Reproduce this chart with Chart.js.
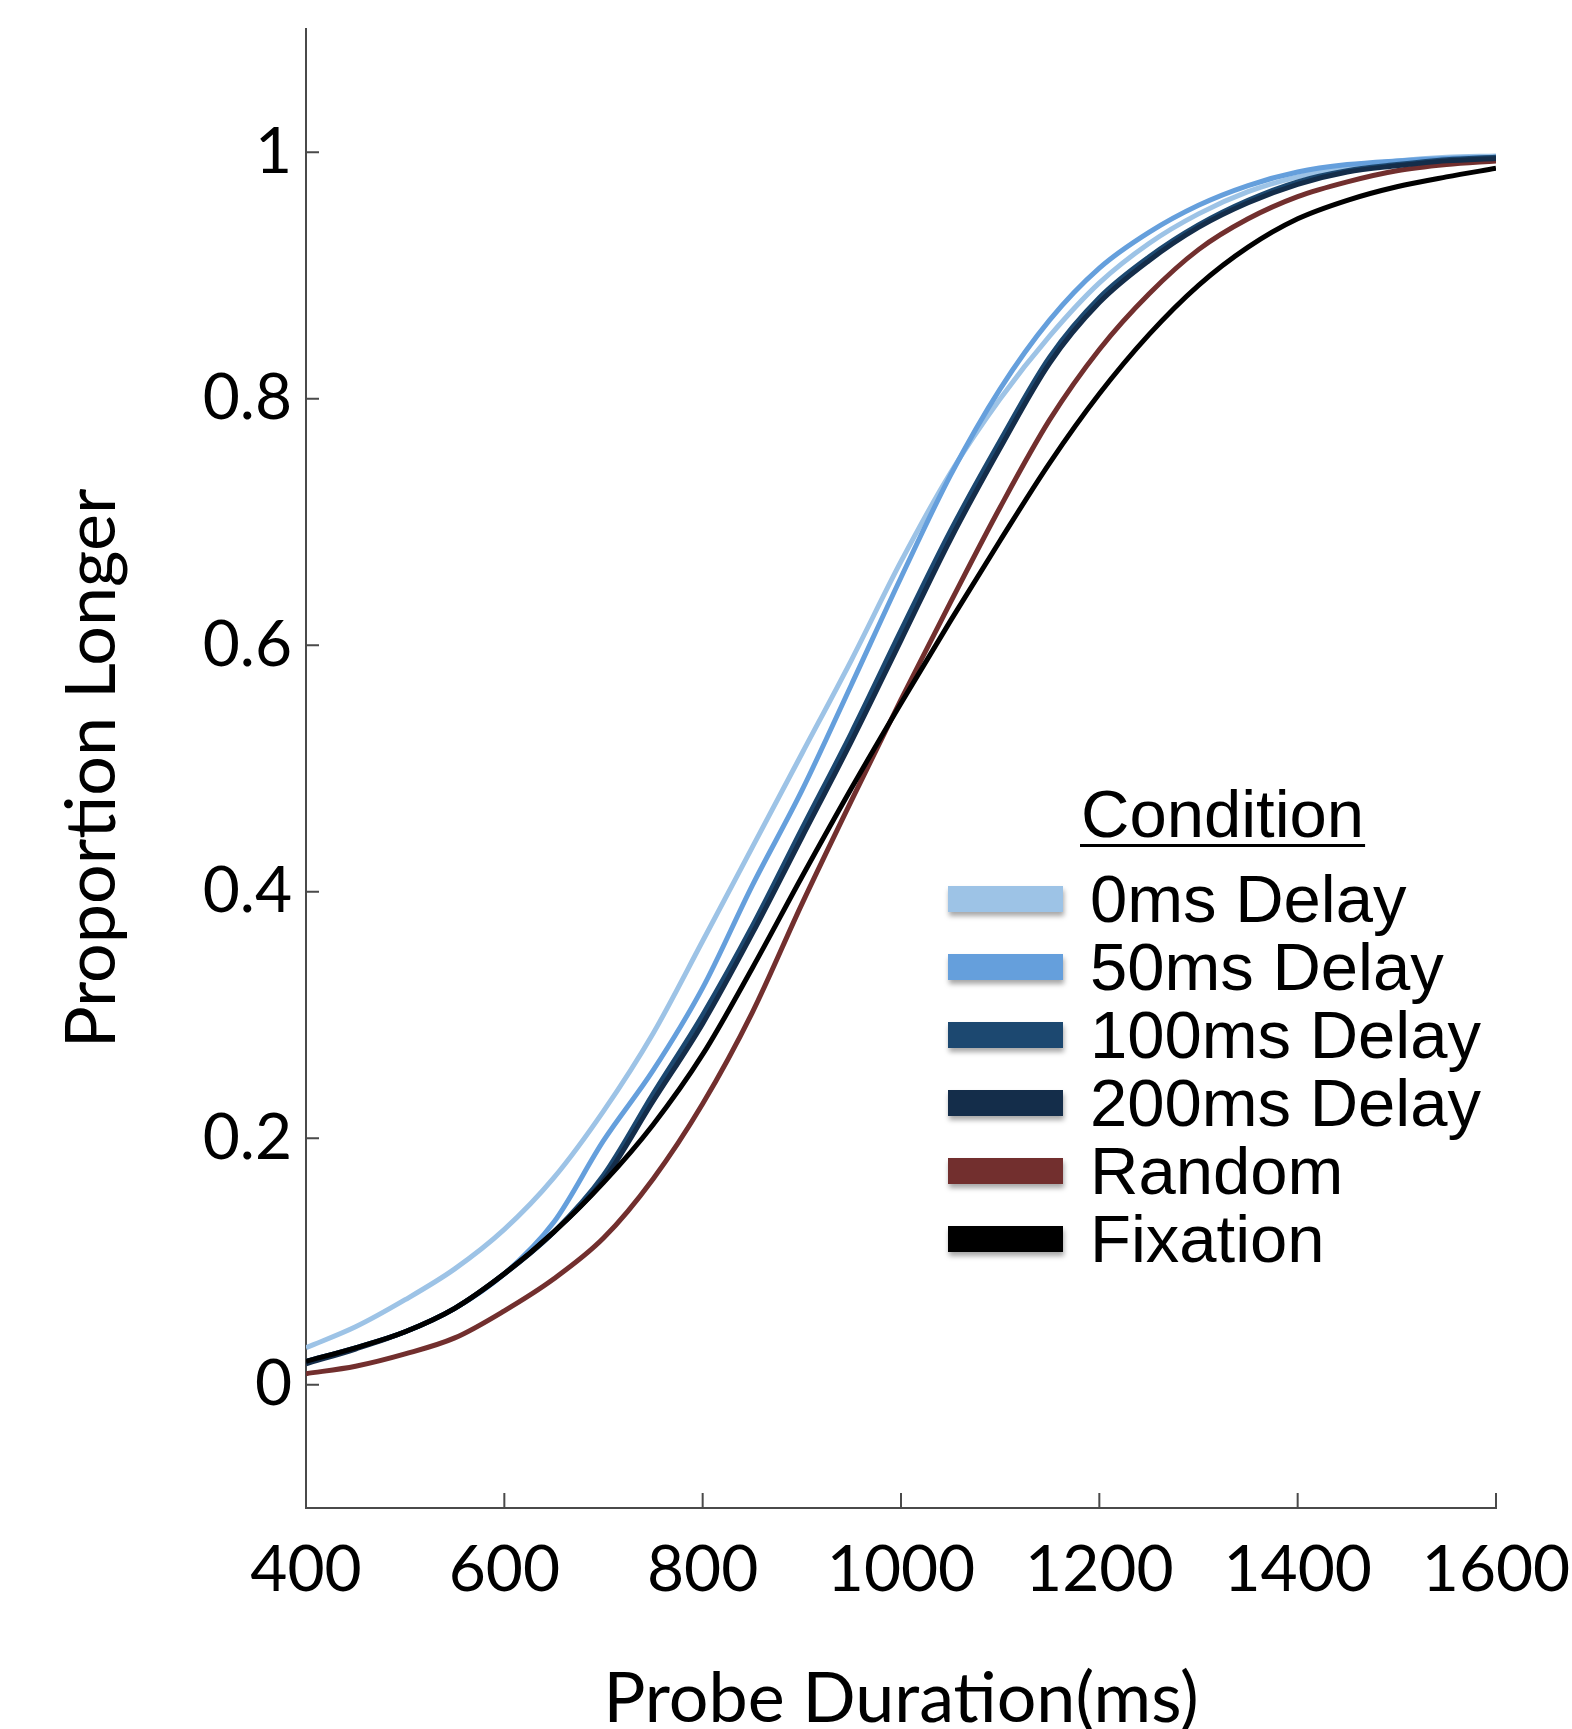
<!DOCTYPE html>
<html>
<head>
<meta charset="utf-8">
<title>Proportion Longer by Probe Duration</title>
<script src="https://cdn.jsdelivr.net/npm/chart.js@4.4.1/dist/chart.umd.min.js"></script>
<style>
  html, body { margin: 0; padding: 0; background: #fff; }
  canvas { display: block; }
</style>
</head>
<body>
<canvas id="psychometricChart" width="1572" height="1729"></canvas>
<script>
const probeDurations = [
  400, 450, 500, 550, 600, 650, 700, 750, 800, 850, 900, 950, 1000,
  1050, 1100, 1150, 1200, 1250, 1300, 1350, 1400, 1450, 1500, 1550, 1600
]

// Proportion "longer" responses per condition
const delay0 = [
  0.030, 0.047, 0.069, 0.094, 0.126, 0.168, 0.222, 0.285, 0.360, 0.436, 0.512, 0.588, 0.668,
  0.740, 0.800, 0.851, 0.894, 0.926, 0.950, 0.968, 0.980, 0.988, 0.993, 0.996, 0.997
]
const delay50 = [
  0.019, 0.030, 0.043, 0.062, 0.090, 0.132, 0.198, 0.255, 0.322, 0.405, 0.482, 0.568, 0.655,
  0.738, 0.808, 0.864, 0.906, 0.935, 0.957, 0.973, 0.984, 0.990, 0.993, 0.995, 0.996
]
const delay100 = [
  0.019, 0.030, 0.043, 0.062, 0.090, 0.124, 0.170, 0.236, 0.300, 0.372, 0.451, 0.529, 0.612,
  0.693, 0.766, 0.834, 0.882, 0.915, 0.941, 0.961, 0.976, 0.985, 0.990, 0.994, 0.996
]
const delay200 = [
  0.017, 0.029, 0.043, 0.062, 0.090, 0.124, 0.166, 0.230, 0.293, 0.366, 0.444, 0.522, 0.604,
  0.686, 0.760, 0.829, 0.878, 0.912, 0.939, 0.959, 0.974, 0.984, 0.989, 0.993, 0.995
]
const random = [
  0.009, 0.015, 0.025, 0.038, 0.060, 0.086, 0.119, 0.167, 0.228, 0.302, 0.390, 0.474, 0.556,
  0.635, 0.712, 0.783, 0.840, 0.885, 0.921, 0.946, 0.964, 0.976, 0.985, 0.990, 0.993
]
const fixation = [
  0.019, 0.030, 0.043, 0.062, 0.090, 0.124, 0.164, 0.211, 0.268, 0.338, 0.412, 0.484, 0.553,
  0.620, 0.685, 0.748, 0.804, 0.852, 0.892, 0.923, 0.946, 0.961, 0.972, 0.980, 0.987
]

const conditionLabels = ['0ms Delay', '50ms Delay', '100ms Delay', '200ms Delay', 'Random', 'Fixation']
const conditionColors = ['#9dc3e6', '#659fdc', '#1c4870', '#142d4a', '#722f2e', '#000000']
const drawOrder = [5, 4, 2, 1, 3, 0] // lower = drawn on top

const xTicks = [400, 600, 800, 1000, 1200, 1400, 1600]
const yTicks = [0, 0.2, 0.4, 0.6, 0.8, 1]
const yTickLabels = ['0', '0.2', '0.4', '0.6', '0.8', '1']

const axisColor = '#4a4a4a'
const tickFont = { family: 'Lato', size: 64 }

// Tick marks point into the plot, like the original
const insideTicks = {
  id: 'insideTicks',
  afterDraw(chart) {
    const { ctx, chartArea, scales } = chart
    ctx.save()
    ctx.strokeStyle = axisColor
    ctx.lineWidth = 2
    ctx.beginPath()
    scales.x.ticks.forEach((t) => {
      const px = scales.x.getPixelForValue(t.value)
      ctx.moveTo(px, chartArea.bottom)
      ctx.lineTo(px, chartArea.bottom - 15)
    })
    scales.y.ticks.forEach((t) => {
      const py = scales.y.getPixelForValue(t.value)
      ctx.moveTo(chartArea.left, py)
      ctx.lineTo(chartArea.left + 13, py)
    })
    ctx.stroke()
    ctx.restore()
  }
}

// Legend with an underlined heading, placed inside the plot
const conditionLegend = {
  id: 'conditionLegend',
  afterDraw(chart) {
    const ctx = chart.ctx
    ctx.save()
    ctx.font = '67px "Liberation Sans", Arial, sans-serif'
    ctx.fillStyle = '#000'
    ctx.textBaseline = 'alphabetic'
    ctx.fillText('Condition', 1081, 837)
    const w = ctx.measureText('Condition').width
    ctx.fillRect(1080, 844, w + 2, 3)

    chart.data.datasets.forEach((ds, i) => {
      const cy = 899 + i * 68
      ctx.save()
      ctx.shadowColor = 'rgba(0, 0, 0, 0.35)'
      ctx.shadowBlur = 5
      ctx.shadowOffsetX = 1
      ctx.shadowOffsetY = 4
      ctx.fillStyle = ds.borderColor
      ctx.fillRect(948, cy - 13, 115, 26)
      ctx.restore()
      ctx.fillStyle = '#000'
      ctx.fillText(ds.label, 1090, cy + 23)
    })
    ctx.restore()
  }
}

const seriesValues = [delay0, delay50, delay100, delay200, random, fixation]

const datasets = seriesValues.map((values, i) => ({
  label: conditionLabels[i],
  data: values.map((v, j) => ({ x: probeDurations[j], y: v })),
  borderColor: conditionColors[i],
  backgroundColor: conditionColors[i],
  borderWidth: 5,
  pointRadius: 0,
  fill: false,
  cubicInterpolationMode: 'monotone',
  order: drawOrder[i]
}))

new Chart(document.getElementById('psychometricChart'), {
  type: 'line',
  data: { datasets: datasets },
  options: {
    responsive: false,
    animation: false,
    events: [],
    layout: { padding: { top: 29, right: 76, left: 0, bottom: 0 } },
    plugins: {
      legend: { display: false },
      tooltip: { enabled: false }
    },
    scales: {
      x: {
        type: 'linear',
        min: 400,
        max: 1600,
        afterBuildTicks: (scale) => {
          scale.ticks = xTicks.map((v) => ({ value: v }))
        },
        afterFit: (scale) => {
          scale.height = 221
          scale.paddingLeft = 0
          scale.paddingRight = 0
        },
        grid: { display: false, drawTicks: false },
        border: { display: true, color: axisColor, width: 2 },
        ticks: {
          font: tickFont,
          color: '#000',
          padding: 24,
          maxRotation: 0,
          autoSkip: false,
          callback: (v) => String(v)
        },
        title: {
          display: true,
          text: 'Probe Duration(ms)',
          color: '#000',
          font: { family: 'Lato', size: 70, lineHeight: 0.85 },
          padding: { top: 0, bottom: 0 }
        }
      },
      y: {
        type: 'linear',
        min: -0.1,
        max: 1.1,
        afterBuildTicks: (scale) => {
          scale.ticks = yTicks.map((v) => ({ value: v }))
        },
        afterFit: (scale) => {
          scale.width = 306
          scale.paddingTop = 0
          scale.paddingBottom = 0
        },
        grid: { display: false, drawTicks: false },
        border: { display: true, color: axisColor, width: 2 },
        ticks: {
          font: tickFont,
          color: '#000',
          padding: 14,
          autoSkip: false,
          callback: (v, i) => yTickLabels[i]
        },
        title: {
          display: true,
          text: 'Proportion Longer',
          color: '#000',
          font: { family: 'Lato', size: 70, lineHeight: 1 },
          padding: { top: 57, bottom: 0 }
        }
      }
    }
  },
  plugins: [insideTicks, conditionLegend]
})
</script>
</body>
</html>
